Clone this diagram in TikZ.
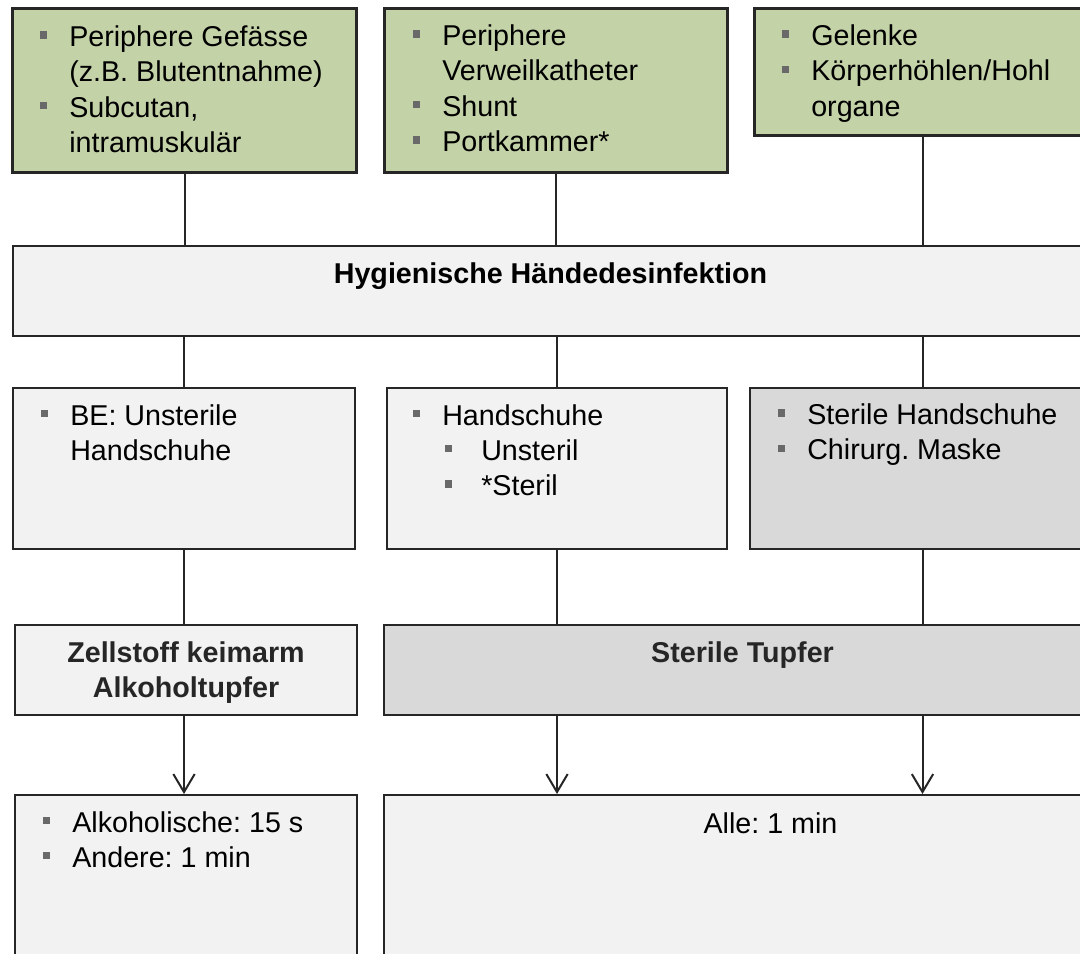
\documentclass[tikz,border=0pt]{standalone}
\usepackage{fontspec}
\setmainfont{Liberation Sans}
\usepackage{tikz}
\usetikzlibrary{arrows.meta,positioning,calc}
\frenchspacing
\definecolor{boxGreen}{RGB}{196,210,168}
\definecolor{paleGray}{RGB}{242,242,242}
\definecolor{midGray}{RGB}{217,217,217}
\definecolor{lineDark}{RGB}{38,38,38}
\definecolor{bulletGray}{RGB}{105,105,105}
\definecolor{textDark}{RGB}{38,38,38}
\newcommand{\dgfont}{\fontsize{21.5pt}{26.5pt}\selectfont}
\newcommand{\sqbul}{\textcolor{bulletGray}{\rule[6pt]{5.5pt}{5.5pt}}}
\newcommand{\itm}{\par\noindent\llap{\sqbul\hspace{16.5pt}}\rule{0pt}{19pt}}
\newcommand{\subitm}{\par\noindent\hspace*{29.25pt}\llap{\sqbul\hspace{21.75pt}}\rule{0pt}{19pt}}
\newcommand{\bullist}[1]{\parbox[t]{230pt}{\raggedright\frenchspacing #1}}
\tikzset{
  topbox/.style={draw=lineDark,line width=2.25pt,fill=boxGreen,anchor=north west,inner sep=0pt},
  plainbox/.style={draw=lineDark,line width=1.5pt,fill=paleGray,anchor=north west,inner sep=0pt,
                   font=\dgfont\bfseries,text=textDark,align=center},
  greybox/.style={plainbox,fill=midGray},
  txt/.style={anchor=north west,inner sep=0pt,font=\dgfont},
  head/.style={anchor=north,inner sep=0pt,font=\dgfont\bfseries},
  conn/.style={draw=lineDark,line width=1.5pt},
  arr/.style={conn,-{Straight Barb[length=13.5pt,width=16pt]}},
}

\begin{document}
\begin{tikzpicture}[x=0.75pt,y=-0.75pt]
  \useasboundingbox (0,0) rectangle (1080,953);
  \clip (0,0) rectangle (1080,953);
  \fill[white] (0,0) rectangle (1080,953);

  % top row: where is it done
  \node[topbox,minimum width=258pt,minimum height=123pt] (g1) at (11,7) {};
  \node[topbox,minimum width=257.25pt,minimum height=123pt] (g2) at (383,7) {};
  \node[topbox,minimum width=252.75pt,minimum height=95.25pt] (g3) at (753,7) {};

  \node[txt] (t1) at ($(g1.north west)+(58,14)$)
    {\bullist{\itm Periphere Gefässe\\(z.B. Blutentnahme)
     \itm Subcutan,\\intramuskulär}};
  \node[txt] (t2) at ($(g2.north west)+(59,13)$)
    {\bullist{\itm Periphere\\Verweilkatheter
     \itm Shunt
     \itm Portkammer*}};
  \node[txt] (t3) at ($(g3.north west)+(58,13)$)
    {\bullist{\itm Gelenke
     \itm Körperhöhlen/Hohl\\organe}};

  % hand disinfection
  \node[plainbox,minimum width=806.25pt,minimum height=67.5pt] (hyg) at (12,245) {};
  \node[head] (hygtxt) at ($(hyg.north)+(0,12.7)$)
    {\rule{0pt}{19pt}Hygienische Händedesinfektion};

  % protection
  \node[plainbox,minimum width=256.5pt,minimum height=120.75pt] (ha) at (12,387) {};
  \node[plainbox,minimum width=255pt,minimum height=120.75pt] (hb) at (386,387) {};
  \node[greybox,minimum width=258.75pt,minimum height=120.75pt] (hc) at (749,387) {};

  \node[txt] (ta) at ($(ha.north west)+(58,12.5)$)
    {\bullist{\itm BE: Unsterile\\Handschuhe}};
  \node[txt] (tb) at ($(hb.north west)+(56,12.5)$)
    {\bullist{\itm Handschuhe
     \subitm Unsteril
     \subitm *Steril}};
  \node[txt] (tc) at ($(hc.north west)+(58,12)$)
    {\bullist{\itm Sterile Handschuhe
     \itm Chirurg. Maske}};

  % swabs
  \node[plainbox,minimum width=256.5pt,minimum height=67.5pt] (zell) at (14,624)
    {\rule{0pt}{19pt}Zellstoff keimarm\\Alkoholtupfer};
  \node[greybox,minimum width=537.75pt,minimum height=67.5pt] (tupf) at (383,624) {};
  \node[head,text=textDark] (tupftxt) at ($(tupf.north)+(0,12.7)$)
    {\rule{0pt}{19pt}Sterile Tupfer};

  % exposure time
  \node[plainbox,minimum width=256.5pt,minimum height=150pt] (alk) at (14,794) {};
  \node[plainbox,minimum width=537.75pt,minimum height=150pt] (alle) at (383,794) {};

  \node[txt] (talk) at ($(alk.north west)+(58,12.5)$)
    {\bullist{\itm Alkoholische: 15 s
     \itm Andere: 1 min}};
  \node[head,font=\dgfont] (alletxt) at ($(alle.north)+(28,13.5)$)
    {\rule{0pt}{19pt}Alle: 1 min};

  \draw[conn] (g1.south) -- (g1.south |- hyg.north);
  \draw[conn] (g2.south) -- (g2.south |- hyg.north);
  \draw[conn] (g3.south) -- (g3.south |- hyg.north);
  \draw[conn] (ha.north |- hyg.south) -- (ha.north);
  \draw[conn] (hb.north |- hyg.south) -- (hb.north);
  \draw[conn] (hc.north |- hyg.south) -- (hc.north);
  \draw[conn] (ha.south) -- (ha.south |- zell.north);
  \draw[conn] (hb.south) -- (hb.south |- tupf.north);
  \draw[conn] (hc.south) -- (hc.south |- tupf.north);
  \draw[arr] (ha.south |- zell.south) -- (ha.south |- alk.north);
  \draw[arr] (hb.south |- tupf.south) -- (hb.south |- alle.north);
  \draw[arr] (hc.south |- tupf.south) -- (hc.south |- alle.north);
\end{tikzpicture}
\end{document}
